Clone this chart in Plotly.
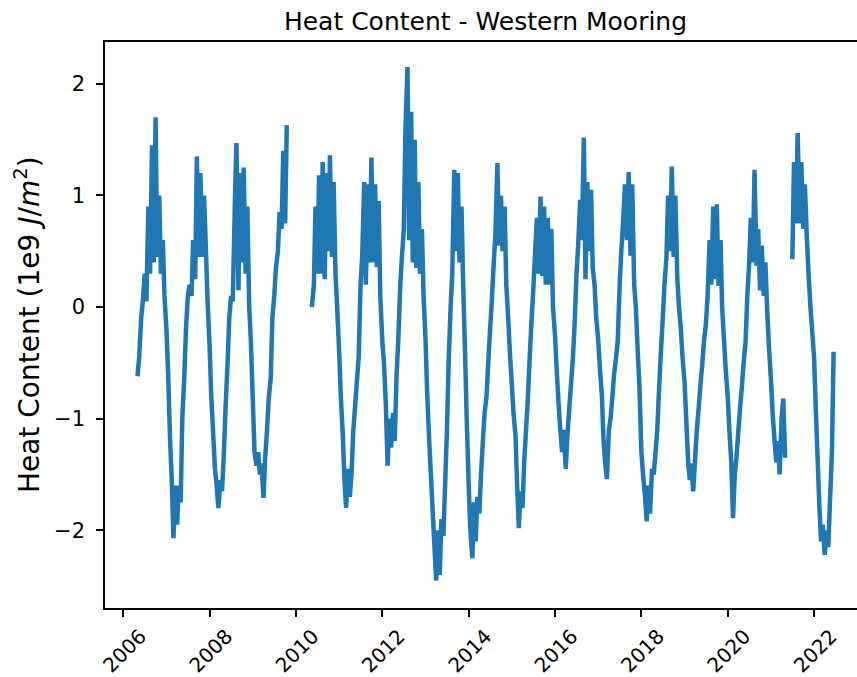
import pandas as pd
import plotly.graph_objects as go

# Heat content anomaly (1e9 J/m^2), semi-monthly samples for each deployment period
seg_a_start = "2006-05-01"
seg_a = [
    -0.62, -0.45, -0.1, 0.05, 0.3, 0.05, 0.9, 0.3, 1.45, 0.4,
    1.7, 0.45, 1.0, 0.3, 0.6, 0.1, -0.2, -0.6, -1.2, -1.55,
    -2.07, -1.6, -1.95, -1.6, -1.75, -1.0, -0.62, -0.2, 0.1, 0.2,
    0.1, 0.6, 0.25, 1.35, 0.45, 1.2, 0.45, 1.0, 0.5, 0.05,
    -0.35, -0.8, -1.15, -1.45, -1.6, -1.8, -1.55, -1.65, -1.3, -0.9,
    -0.5, -0.1, 0.1, 0.05, 0.9, 1.47, 0.15, 1.2, 0.4, 1.25,
    0.3, 0.9, 0.0, -0.3, -0.85, -1.3, -1.42, -1.3, -1.5, -1.4,
    -1.71, -1.35, -1.1, -0.82, -0.64, -0.1, 0.1, 0.35, 0.5, 0.85,
    0.7, 1.4, 0.75, 1.63,
]

seg_b_start = "2010-05-15"
seg_b = [
    0.0, 0.2, 0.9, 0.3, 1.18, 0.3, 1.3, 0.25, 1.2, 0.5,
    1.36, 0.45, 1.12, 0.3, 0.0, -0.4, -0.8, -1.15, -1.55, -1.8,
    -1.45, -1.7, -1.5, -1.1, -0.9, -0.65, -0.45, 0.2, 0.45, 1.12,
    0.2, 1.1, 0.4, 1.34, 0.4, 1.1, 0.36, 0.95, 0.1, -0.3,
    -0.5, -0.9, -1.42, -1.0, -1.26, -0.95, -1.2, -0.6, -0.3, 0.2,
    0.45, 0.7, 1.6, 2.15, 0.6, 1.75, 0.4, 1.5, 0.35, 1.12,
    0.3, 0.7, 0.1, -0.3, -0.78, -1.2, -1.5, -1.8, -2.1, -2.45,
    -2.0, -2.4, -1.9, -2.05, -1.6, -1.1, -0.5, 0.0, 0.3, 1.23,
    0.5, 1.2, 0.4, 0.9, 0.2, -0.4, -1.0, -1.6, -2.0, -2.25,
    -1.75, -2.1, -1.7, -1.85, -1.5, -1.2, -0.95, -0.8, -0.5, -0.2,
    0.05, 0.4, 0.65, 1.29, 0.55, 1.0, 0.5, 0.9, 0.2, -0.1,
    -0.4, -0.7, -0.95, -1.15, -1.6, -1.98, -1.65, -1.8, -1.4, -1.1,
    -0.85, -0.45, -0.15, 0.15, 0.45, 0.8, 0.3, 0.99, 0.28, 0.9,
    0.2, 0.8, 0.2, 0.7, 0.0, -0.25, -0.55, -0.88, -1.1, -1.3,
    -1.1, -1.45, -1.15, -0.9, -0.7, -0.45, -0.15, 0.3, 0.55, 0.96,
    0.6, 1.52, 0.25, 1.12, 0.5, 1.05, 0.35, 0.2, -0.1, -0.3,
    -0.55, -0.8, -1.2, -1.4, -1.54, -1.1, -1.0, -0.8, -0.6, -0.45,
    -0.3, 0.2, 0.5, 0.8, 1.1, 0.6, 1.21, 0.46, 1.1, 0.2,
    0.0, -0.4, -0.7, -1.3, -1.5, -1.7, -1.92, -1.6, -1.85, -1.45,
    -1.5, -1.3, -1.1, -0.7, -0.4, -0.1, 0.2, 0.45, 1.0, 0.5,
    1.26, 0.45, 1.0, 0.25, 0.0, -0.2, -0.45, -0.67, -1.0, -1.4,
    -1.55, -1.4, -1.65, -1.35, -1.1, -0.9, -0.7, -0.5, -0.3, -0.15,
    0.1, 0.6, 0.2, 0.9, 0.25, 0.92, 0.19, 0.6, 0.0, -0.3,
    -0.55, -0.8, -1.1, -1.4, -1.89, -1.5, -1.35, -1.1, -0.9, -0.7,
    -0.5, -0.3, 0.1, 0.4, 0.8, 0.4, 1.23, 0.37, 0.7, 0.15,
    0.55, 0.1, 0.4, -0.05, -0.35, -0.65, -0.95, -1.2, -1.39, -1.2,
    -1.5, -1.0, -0.82, -1.35,
]

seg_c_start = "2021-07-01"
seg_c = [
    0.43, 1.3, 0.75, 1.56, 0.75, 1.3, 0.7, 1.1, 0.62, 0.3,
    0.0, -0.2, -0.45, -0.9, -1.39, -1.8, -2.1, -1.95, -2.22, -2.0,
    -2.15, -1.75, -1.3, -0.4,
]

tick_years = ["2006", "2008", "2010", "2012", "2014", "2016", "2018", "2020", "2022"]
y_ticks = [-2, -1, 0, 1, 2]
y_tick_text = ["\u22122", "\u22121", "0", "1", "2"]

# join the deployments, leaving a break between them
dates, values = [], []
for start, vals in [(seg_a_start, seg_a), (seg_b_start, seg_b), (seg_c_start, seg_c)]:
    d = pd.date_range(start, periods=len(vals), freq="SMS")
    dates.extend(list(d))
    values.extend(vals)
    dates.append(d[-1] + pd.Timedelta(days=5))
    values.append(None)

fig = go.Figure()
fig.add_trace(go.Scatter(
    x=dates, y=values, mode="lines",
    line=dict(color="#1f77b4", width=4.5, simplify=False),
    connectgaps=False, hoverinfo="x+y",
))

fig.update_layout(
    width=857, height=677,
    margin=dict(l=105, r=0, t=42, b=67),
    paper_bgcolor="white", plot_bgcolor="white",
    font=dict(family="DejaVu Sans", color="black"),
    showlegend=False,
    title=dict(
        text="Heat Content - Western Mooring",
        x=485.5 / 857, xanchor="center", xref="container",
        y=1 - 21 / 677, yanchor="middle", yref="container",
        font=dict(size=25, color="black"),
    ),
)

fig.update_xaxes(
    type="date", range=["2005-07-30", "2022-12-30"],
    tickvals=[f"{y}-01-01" for y in tick_years], ticktext=tick_years,
    tickangle=-45, tickfont=dict(size=20, color="black"),
    ticks="outside", ticklen=7, tickwidth=1.5, tickcolor="black",
    ticklabelshift=17,
    showline=True, linecolor="black", linewidth=1.5, mirror=True,
    showgrid=False, zeroline=False,
)

fig.update_yaxes(
    range=[-2.696, 2.375],
    tickvals=y_ticks, ticktext=y_tick_text,
    tickfont=dict(size=21, color="black"),
    ticks="outside", ticklen=7, tickwidth=1.5, tickcolor="black",
    ticklabelstandoff=7,
    showline=True, linecolor="black", linewidth=1.5, mirror=False,
    showgrid=False, zeroline=False,
)

fig.add_annotation(
    text="Heat Content (1e9 <i>J</i>/<i>m</i><sup>2</sup>)",
    xref="paper", yref="paper", x=(27 - 105) / 752, y=0.5,
    xanchor="center", yanchor="middle", textangle=-90,
    showarrow=False, font=dict(size=28, color="black"),
)

fig.write_html("out.html")
